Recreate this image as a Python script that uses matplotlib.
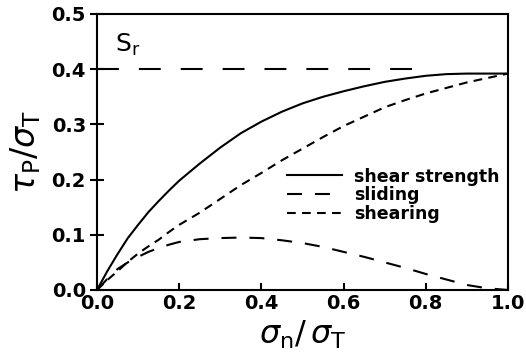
import matplotlib
matplotlib.use("Agg")
import matplotlib.pyplot as plt

plt.rcParams['mathtext.fontset'] = 'dejavusans'
plt.rcParams['font.family'] = ['DejaVu Sans']

x = [0.0, 0.025, 0.05, 0.075, 0.1, 0.125, 0.15, 0.175, 0.2, 0.25, 0.3, 0.35, 0.4, 0.45, 0.5,
     0.55, 0.6, 0.65, 0.7, 0.75, 0.8, 0.85, 0.9, 0.95, 1.0]
shear_strength = [0.0, 0.034, 0.065, 0.094, 0.118, 0.141, 0.161, 0.18, 0.198, 0.229, 0.258, 0.284,
                  0.305, 0.323, 0.338, 0.35, 0.36, 0.369, 0.377, 0.383, 0.388, 0.391, 0.392, 0.392, 0.392]
sliding = [0.0, 0.02, 0.038, 0.05, 0.06, 0.069, 0.076, 0.082, 0.087, 0.092, 0.094, 0.095, 0.094,
           0.09, 0.085, 0.078, 0.069, 0.06, 0.05, 0.04, 0.029, 0.019, 0.009, 0.003, 0.0]
shearing = [0.0, 0.018, 0.034, 0.051, 0.066, 0.079, 0.091, 0.105, 0.118, 0.14, 0.165, 0.19, 0.212,
            0.235, 0.256, 0.277, 0.297, 0.314, 0.331, 0.344, 0.356, 0.366, 0.376, 0.384, 0.392]
sr_x = [0.0, 0.78]
sr_y = [0.4, 0.4]
xticks = [0.0, 0.2, 0.4, 0.6, 0.8, 1.0]
yticks = [0.0, 0.1, 0.2, 0.3, 0.4, 0.5]

fig = plt.figure(figsize=(5.26, 3.58), dpi=100)
ax = fig.add_axes([0.1844, 0.19, 0.7814, 0.771])

lw = 1.5
ax.plot(sr_x, sr_y, color='black', lw=lw, dashes=(10.5, 9.6))
ax.plot(x, shear_strength, color='black', lw=lw, label='shear strength')
ax.plot(x, sliding, color='black', lw=lw, dashes=(7.2, 6.2), label='sliding')
ax.plot(x, shearing, color='black', lw=lw, dashes=(4.2, 3.0), label='shearing')

ax.set_xlim(0, 1.0)
ax.set_ylim(0, 0.5)
ax.set_xticks(xticks)
ax.set_yticks(yticks)
ax.set_xticklabels([f'{v:.1f}' for v in xticks], fontsize=14, fontweight='bold')
ax.set_yticklabels([f'{v:.1f}' for v in yticks], fontsize=14, fontweight='bold')
ax.tick_params(axis='x', direction='in', length=5, width=1.5, pad=3)
ax.tick_params(axis='y', direction='inout', length=10, width=1.5, pad=3)
for s in ax.spines.values():
    s.set_linewidth(1.5)

ax.set_xlabel(r'$\sigma_{\mathregular{n}}/\,\sigma_{\mathregular{T}}$', fontsize=23, labelpad=4)
ax.set_ylabel(r'$\tau_{\mathregular{P}}/\sigma_{\mathregular{T}}$', fontsize=24, labelpad=6)

ax.text(0.045, 0.42, r'S$_{\mathregular{r}}$', fontsize=18, ha='left', va='bottom')

leg = ax.legend(loc='upper left', bbox_to_anchor=(0.44, 0.475), frameon=False,
                prop={'size': 12.5, 'weight': 'bold'}, handlelength=3.2,
                handletextpad=0.7, labelspacing=0.05, borderpad=0)

fig.savefig('out.png', dpi=100)
